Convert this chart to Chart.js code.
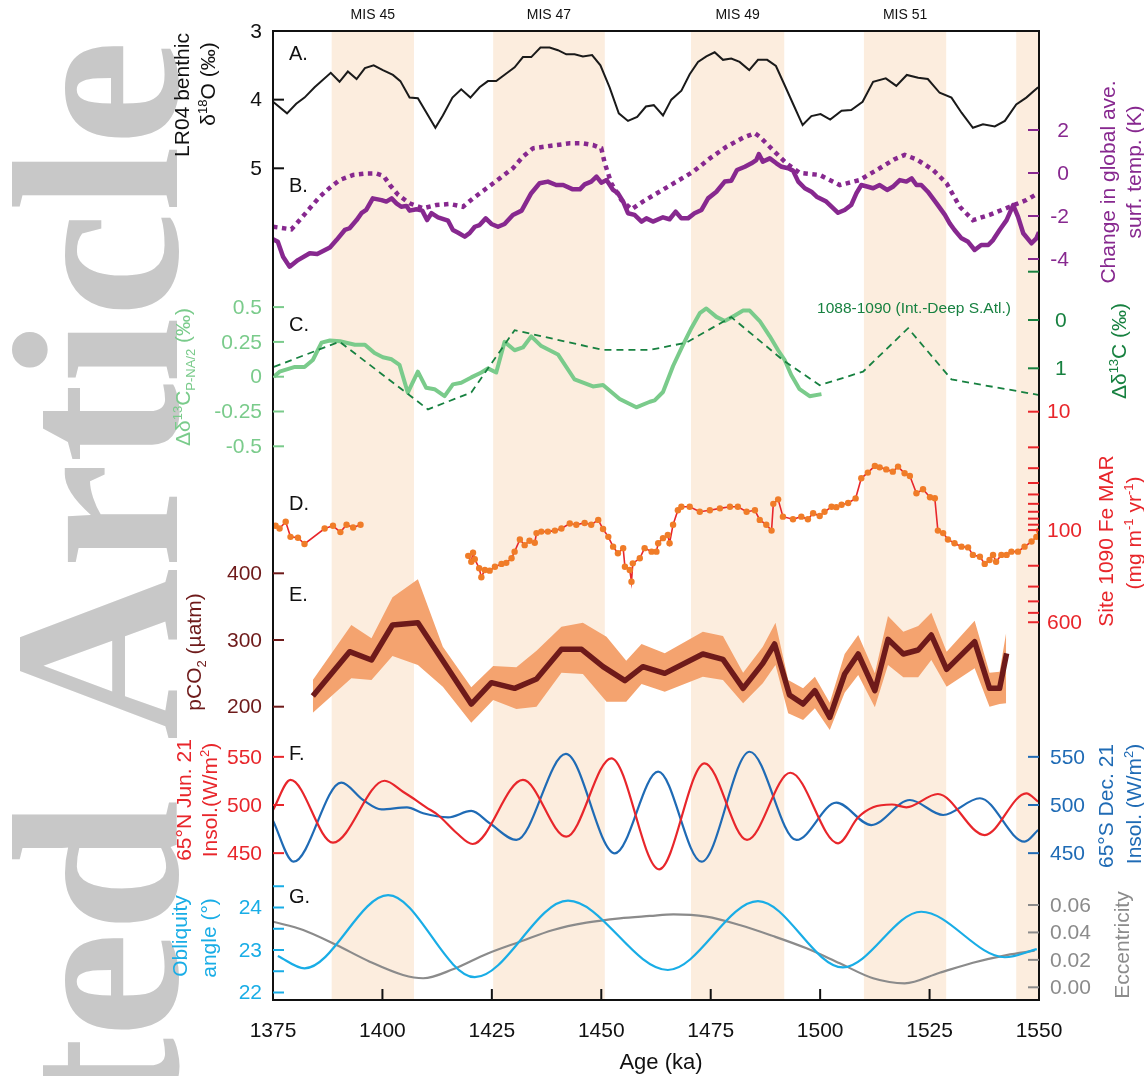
<!DOCTYPE html>
<html>
<head>
<meta charset="utf-8">
<title>Paleo records MIS 45-51</title>
<script src="https://cdn.jsdelivr.net/npm/chart.js@4.4.1/dist/chart.umd.min.js"></script>
<style>
  html, body { margin: 0; padding: 0; background: #fff; }
  canvas { display: block; }
</style>
</head>
<body>
<canvas id="chart" width="1144" height="1076"></canvas>
<script>
// ---- values (age in ka) ----
const ageTicks = [1375, 1400, 1425, 1450, 1475, 1500, 1525, 1550];
const misBands = [[1388.4, 1407.2], [1425.3, 1450.8], [1470.5, 1491.8], [1510.0, 1528.8], [1544.8, 1550]];
const misNames = ['MIS 45', 'MIS 47', 'MIS 49', 'MIS 51'];

// A. LR04 benthic d18O (permil)
const lr04 = [[1375.0,4.03],[1378.2,4.20],[1380.3,4.06],[1382.2,3.97],[1384.5,3.82],[1388.2,3.61],[1390.2,3.74],[1392.1,3.59],[1394.1,3.70],[1396.0,3.54],[1398.0,3.50],[1400.1,3.57],[1402.4,3.64],[1404.1,3.73],[1406.2,3.97],[1408.1,3.98],[1412.1,4.41],[1413.8,4.23],[1416.0,3.97],[1418.0,3.85],[1420.1,3.97],[1422.2,3.82],[1424.1,3.73],[1426.0,3.73],[1428.3,3.62],[1430.2,3.53],[1432.1,3.38],[1434.0,3.38],[1436.1,3.24],[1438.2,3.24],[1440.1,3.28],[1442.0,3.34],[1443.9,3.34],[1445.8,3.37],[1447.9,3.35],[1449.8,3.50],[1451.9,3.82],[1454.0,4.20],[1456.1,4.31],[1458.2,4.25],[1460.2,4.10],[1462.0,4.08],[1464.1,4.23],[1466.0,4.00],[1468.3,3.87],[1470.2,3.63],[1472.1,3.45],[1474.0,3.37],[1475.9,3.31],[1477.8,3.42],[1479.7,3.40],[1481.6,3.45],[1483.8,3.57],[1485.8,3.42],[1487.9,3.42],[1489.9,3.51],[1491.9,3.79],[1493.8,4.06],[1496.0,4.37],[1498.0,4.24],[1500.1,4.21],[1502.3,4.29],[1504.9,4.16],[1507.1,4.15],[1509.7,4.03],[1512.1,3.74],[1515.0,3.69],[1517.4,3.80],[1519.8,3.64],[1522.4,3.68],[1524.6,3.70],[1527.3,3.90],[1530.0,3.97],[1532.3,4.19],[1534.9,4.41],[1537.2,4.36],[1539.9,4.39],[1542.2,4.31],[1544.8,4.07],[1547.1,3.97],[1549.8,3.82]];

// B. change in global average surface temperature (K)
const tempSolid = [[1375.0,-3.08],[1376.1,-3.2],[1377.3,-3.9],[1378.8,-4.36],[1380.7,-4.05],[1383.4,-3.73],[1385.1,-3.77],[1388.0,-3.46],[1389.5,-3.12],[1391.4,-2.65],[1392.5,-2.57],[1394.1,-2.19],[1395.2,-1.87],[1396.3,-1.72],[1397.8,-1.18],[1399.8,-1.26],[1400.9,-1.33],[1402.1,-1.18],[1403.2,-1.41],[1404.3,-1.57],[1405.5,-1.53],[1406.2,-1.75],[1407.8,-1.69],[1409.1,-1.75],[1410.2,-2.19],[1411.2,-1.87],[1412.7,-2.06],[1415.0,-2.22],[1416.1,-2.65],[1417.3,-2.78],[1418.8,-2.96],[1419.9,-2.8],[1421.1,-2.5],[1422.2,-2.42],[1423.6,-2.11],[1424.9,-2.37],[1426.4,-2.5],[1427.9,-2.37],[1429.8,-1.95],[1431.8,-1.75],[1434.0,-0.94],[1435.9,-0.48],[1437.8,-0.40],[1439.7,-0.56],[1441.3,-0.56],[1443.5,-0.76],[1445.1,-0.76],[1446.2,-0.53],[1447.7,-0.40],[1448.9,-0.17],[1450.0,-0.45],[1451.2,-0.33],[1452.7,-0.79],[1453.8,-0.94],[1455.0,-1.33],[1456.1,-1.87],[1457.6,-1.95],[1459.2,-2.26],[1460.3,-2.11],[1461.8,-2.26],[1464.1,-2.06],[1465.6,-2.15],[1467.0,-1.8],[1468.3,-2.11],[1469.8,-2.11],[1471.3,-1.87],[1472.9,-1.72],[1474.4,-1.18],[1476.3,-0.87],[1478.2,-0.4],[1479.7,-0.36],[1481.0,0.14],[1482.8,0.29],[1484.3,0.45],[1485.4,0.6],[1486.0,0.88],[1486.9,0.53],[1488.5,0.68],[1490.0,0.45],[1491.2,0.29],[1492.7,0.22],[1493.8,0.11],[1495.0,-0.40],[1496.5,-0.71],[1498.0,-0.87],[1499.2,-1.1],[1501.4,-1.33],[1504.1,-1.85],[1505.6,-1.72],[1507.1,-1.49],[1508.3,-0.94],[1509.4,-0.56],[1510.9,-0.64],[1512.1,-0.71],[1513.6,-0.56],[1515.3,-0.79],[1516.6,-0.64],[1518.2,-0.33],[1519.7,-0.4],[1520.9,-0.25],[1522.0,-0.56],[1523.1,-0.56],[1524.6,-0.87],[1526.6,-1.41],[1528.5,-1.95],[1529.6,-2.34],[1530.7,-2.65],[1532.3,-3.04],[1533.8,-3.2],[1535.3,-3.58],[1536.8,-3.35],[1538.4,-3.35],[1539.5,-3.12],[1541.0,-2.65],[1542.6,-2.19],[1544.1,-1.49],[1545.2,-2.03],[1546.4,-2.8],[1548.3,-3.27],[1549.4,-3.04],[1550.0,-2.75]];
const tempDotted = [[1375.0,-2.5],[1379.2,-2.62],[1381.1,-2.19],[1383.4,-1.64],[1385.7,-1.1],[1388.0,-0.68],[1390.2,-0.33],[1393.3,-0.09],[1396.3,-0.02],[1398.6,-0.02],[1400.3,-0.14],[1401.7,-0.56],[1403.6,-1.02],[1406.2,-1.41],[1409.3,-1.64],[1412.3,-1.49],[1415.4,-1.44],[1418.4,-1.57],[1420.7,-1.18],[1423.8,-0.71],[1426.8,-0.25],[1429.8,0.22],[1432.1,0.76],[1434.4,1.15],[1438.2,1.26],[1442.8,1.38],[1445.8,1.38],[1448.1,1.30],[1450.0,1.15],[1450.8,0.45],[1452.3,-0.48],[1454.6,-1.26],[1456.9,-1.69],[1459.5,-1.33],[1463.3,-0.87],[1467.2,-0.4],[1471.0,0.06],[1474.8,0.68],[1478.6,1.22],[1482.4,1.64],[1485.1,1.85],[1486.2,1.69],[1489.2,1.07],[1492.3,0.45],[1495.3,0.01],[1499.9,-0.09],[1504.5,-0.56],[1509.0,-0.33],[1513.6,0.22],[1517.0,0.64],[1519.3,0.84],[1522.0,0.64],[1525.8,0.14],[1528.9,-0.48],[1531.9,-1.57],[1534.9,-2.19],[1538.7,-1.95],[1543.3,-1.57],[1547.1,-1.26],[1549.8,-0.94]];

// C. d13C gradients (permil)
const d13cPNA = [[1375.2,0.0],[1376.5,0.036],[1380.0,0.07],[1382.2,0.07],[1384.1,0.12],[1386.1,0.245],[1388.0,0.26],[1390.3,0.255],[1393.7,0.23],[1396.0,0.23],[1398.2,0.17],[1400.1,0.14],[1402.1,0.125],[1403.9,0.085],[1405.8,-0.115],[1408.1,0.036],[1410.0,-0.08],[1411.9,-0.09],[1414.2,-0.14],[1416.1,-0.055],[1418.0,-0.043],[1420.3,-0.005],[1422.6,0.03],[1424.1,0.06],[1426.0,0.03],[1427.9,0.25],[1430.2,0.19],[1432.1,0.21],[1434.0,0.29],[1436.3,0.22],[1440.1,0.16],[1443.9,-0.02],[1448.1,-0.07],[1450.4,-0.06],[1454.2,-0.16],[1458.0,-0.22],[1461.1,-0.18],[1462.2,-0.17],[1464.1,-0.11],[1466.4,0.077],[1468.7,0.23],[1470.6,0.35],[1472.5,0.456],[1474.0,0.49],[1476.3,0.43],[1478.2,0.40],[1480.5,0.44],[1482.4,0.475],[1483.9,0.475],[1486.2,0.40],[1488.5,0.29],[1490.4,0.19],[1491.9,0.12],[1493.4,0.012],[1495.3,-0.09],[1497.6,-0.14],[1500.3,-0.125]];
const d13c1090 = [[1375.2,0.97],[1390.2,0.45],[1410.4,1.85],[1420.3,1.5],[1430.2,0.21],[1450.4,0.62],[1461.1,0.62],[1469.4,0.47],[1479.7,-0.06],[1491.5,0.83],[1499.9,1.35],[1509.8,1.07],[1520.1,0.17],[1530.0,1.23],[1549.8,1.55]];

// D. Site 1090 Fe MAR (mg m-1 yr-1), two segments
const feMarEarly = [[1375.6,92],[1376.5,97],[1377.9,85],[1379.0,114],[1380.7,116],[1382.2,131],[1386.8,97],[1388.7,92],[1390.4,104],[1391.8,90],[1393.3,95],[1395.0,90]];
const feMarLate = [[1419.6,165],[1420.3,185],[1420.7,155],[1421.1,176],[1422.1,210],[1422.6,250],[1423.4,217],[1424.5,220],[1425.7,204],[1427.2,193],[1428.3,189],[1429.5,173],[1430.2,152],[1431.4,120],[1432.5,134],[1433.6,123],[1434.8,128],[1435.2,106],[1436.3,103],[1437.8,103],[1439.4,101],[1440.9,97],[1442.8,88],[1444.3,90],[1446.2,87],[1447.7,90],[1449.3,82],[1450.4,98],[1451.6,114],[1452.7,138],[1453.8,157],[1455.0,142],[1455.4,204],[1456.5,217],[1456.9,273],[1457.2,191],[1458.8,173],[1459.9,142],[1461.5,152],[1462.6,152],[1463.0,129],[1464.1,117],[1465.2,110],[1465.6,129],[1466.4,90],[1467.5,68],[1468.3,63.5],[1470.2,63.5],[1472.5,70],[1474.8,68],[1477.1,65.5],[1479.4,63.5],[1481.2,63.5],[1483.2,70],[1485.1,68],[1486.2,82],[1487.7,90],[1488.9,101],[1489.3,60],[1490.4,55],[1491.5,77],[1493.8,81],[1495.7,77],[1497.2,81],[1498.4,72],[1499.9,76],[1501.0,70],[1502.6,63.5],[1503.7,64],[1504.9,61],[1506.4,59],[1508.1,54],[1509.4,36.5],[1510.9,32.7],[1512.5,28.7],[1513.6,29.5],[1515.1,30.7],[1516.6,32.1],[1517.8,29.1],[1519.3,33.1],[1520.5,34.9],[1522.0,48.9],[1523.5,45.2],[1525.1,52.8],[1526.2,53.9],[1526.9,101],[1528.1,106],[1529.2,120],[1530.7,129],[1532.3,138],[1533.8,140],[1534.9,162],[1536.5,168],[1537.6,193],[1538.7,179],[1539.5,162],[1540.2,185],[1541.4,162],[1542.6,162],[1543.7,152],[1545.2,152],[1546.7,138],[1548.3,125],[1549.4,114],[1550.0,101]];

// E. pCO2 (uatm): central estimate and envelope
const co2Mid = [[1384.1,216],[1392.5,282.5],[1397.5,270],[1402.3,322.5],[1408.1,326],[1420.3,204],[1424.9,236],[1430.2,227.5],[1435.2,241.5],[1440.9,286],[1445.5,286],[1450.4,260],[1455.4,239],[1459.5,260],[1464.5,250],[1473.2,279],[1477.8,271],[1482.4,227.5],[1486.9,265],[1489.6,294],[1493.0,217.5],[1496.1,204],[1498.8,224],[1502.2,184],[1505.6,249],[1508.7,279],[1512.5,224],[1515.5,301],[1519.0,279],[1522.4,285],[1525.4,307.5],[1528.9,256],[1535.3,297.5],[1538.7,227.5],[1541.0,227.5],[1542.6,280]];
const co2BandAge = [1384.1,1392.9,1397.5,1402.3,1408.1,1413.8,1420.3,1425.3,1430.6,1435.2,1440.9,1445.8,1451.2,1455.7,1459.2,1464.5,1473.2,1477.8,1482.4,1486.9,1489.8,1492.7,1496.1,1498.8,1502.2,1505.6,1508.7,1512.5,1515.5,1519.0,1522.4,1525.4,1528.9,1535.3,1538.7,1541.0,1542.5];
const co2Upper = [240,322.5,302.5,364,391,290,229,261,259,284,320,326,305,269,294,280,312.5,306,251,290,326,240,227.5,245,206,279,307.5,250,336,312.5,321,341,282.5,329,251,252.5,311];
const co2Lower = [191,242.5,240,276,262.5,230,176,210,196.5,200,251,249,207.5,207.5,234,222.5,245,240,205,235,262.5,190,180,197.5,165,221,247.5,199,262.5,244,244,270,230,257.5,200,204,205];

// F. June 21 insolation 65N and Dec 21 insolation 65S (W/m2)
const insol65N = [[1375.0,494.8],[1379.0,526],[1388.7,460.9],[1400.5,525.2],[1404.7,513.8],[1407.0,507],[1410.0,497.6],[1412.7,489.6],[1416.9,471.2],[1420.6,459.5],[1432.1,526],[1442.0,467.1],[1452.3,548.5],[1463.2,433.2],[1473.6,543.3],[1483.3,463.7],[1493.2,533.5],[1504.1,460.2],[1508.7,487.2],[1512.1,497.6],[1516.4,500.5],[1519.7,497.6],[1526.9,511.4],[1537.6,468.8],[1547.1,512.1],[1549.8,503.4]];
const insol65S = [[1375.0,483.7],[1379.7,441.1],[1390.6,523.2],[1395.6,505.2],[1399.8,495.5],[1405.6,497.6],[1409.3,491.4],[1415.0,487.2],[1420.3,493.8],[1424.5,481],[1430.6,463.7],[1441.9,553],[1453.1,449.8],[1463.0,534.6],[1472.9,441.1],[1483.9,555.3],[1494.6,463.7],[1503.7,502.4],[1511.7,479.2],[1520.5,505.2],[1528.1,489.6],[1536.5,507],[1546.7,461.9],[1549.8,474]];

// G. obliquity (deg) and eccentricity
const obliquity = [[1376.1,22.86],[1382.2,22.57],[1401.3,24.29],[1421.1,22.36],[1442.4,24.16],[1465.2,22.53],[1485.8,24.15],[1505.2,22.59],[1523.1,23.90],[1542.2,22.83],[1549.5,23.02]];
const eccentricity = [[1375.0,0.0478],[1381.9,0.0418],[1389.5,0.0308],[1397.1,0.0187],[1404.7,0.0090],[1409.3,0.0066],[1416.1,0.0131],[1423.8,0.0243],[1431.4,0.0332],[1439.0,0.0418],[1446.6,0.0471],[1454.2,0.0503],[1461.1,0.0520],[1466.5,0.0532],[1474.0,0.0515],[1481.6,0.0454],[1489.2,0.0374],[1496.9,0.0284],[1504.5,0.0175],[1512.1,0.0066],[1519.3,0.0029],[1527.3,0.0106],[1534.9,0.0179],[1542.6,0.0235],[1549.0,0.0267]];

// ---- layout ----
const PLOT = { left: 273, right: 1039, top: 31, bottom: 1000 };
const FONT = '"Liberation Sans", Arial, Helvetica, sans-serif';
const C = {
    band: '#fcedde', lr04: '#1a1a1a', purple: '#87288f', lightGreen: '#7acb8b', darkGreen: '#178140',
    red: '#e8262b', orange: '#f07c28', co2: '#6e1a1a', co2Band: '#f4a36f', blue: '#1f6bb5',
    cyan: '#19ade6', gray: '#8b8b8b'
};

// y-range that puts value v at pixel px with pxPerUnit spacing
function span(v, px, ppu, reverse) {
    const up = (px - PLOT.top) / ppu, down = (PLOT.bottom - px) / ppu;
    return reverse ? { min: v - up, max: v + down } : { min: v - down, max: v + up };
}
const pts = arr => arr.map(p => ({ x: p[0], y: p[1] }));

const rA = span(3, 31, 68.65, true);
const rB = span(0, 173, 21.5, false);
const rC1 = span(0, 376.7, 139.2, false);
const rC2 = span(0, 320, 48.3, true);
const rD = span(1, 411.7, 118.4, true); // decades
const rE = span(200, 706.7, 0.667, false);
const rF = span(500, 805, 0.963, false);
const rG1 = span(23, 950, 42.5, false);
const rG2 = span(0, 987.3, 1371.7, false);

function yScale(r, extra) {
    return Object.assign({ type: 'linear', display: false, bounds: 'data', min: r.min, max: r.max }, extra || {});
}

const feData = pts(feMarEarly).concat([{ x: 1407, y: null }], pts(feMarLate));

const datasets = [
    { label: 'LR04', data: pts(lr04), yAxisID: 'yA', borderColor: C.lr04, borderWidth: 2, order: 1 },
    { label: 'Temp (solid)', data: pts(tempSolid), yAxisID: 'yB', borderColor: C.purple, borderWidth: 4.5,
      borderJoinStyle: 'round', order: 1 },
    { label: 'Temp (dotted)', data: pts(tempDotted), yAxisID: 'yB', borderColor: C.purple, borderWidth: 4.5,
      borderDash: [4.5, 4.5], order: 2 },
    { label: 'd13C P-NA/2', data: pts(d13cPNA), yAxisID: 'yC1', borderColor: C.lightGreen, borderWidth: 4,
      borderJoinStyle: 'round', order: 2 },
    { label: '1088-1090', data: pts(d13c1090), yAxisID: 'yC2', borderColor: C.darkGreen, borderWidth: 1.8,
      borderDash: [7, 5], order: 1 },
    { label: 'Fe MAR', data: feData, yAxisID: 'yD', borderColor: C.red, borderWidth: 1.6, spanGaps: false,
      pointRadius: 3.2, pointBackgroundColor: C.orange, pointBorderWidth: 0, order: 1 },
    { label: 'pCO2 upper', data: co2BandAge.map((a, i) => ({ x: a, y: co2Upper[i] })), yAxisID: 'yE',
      borderWidth: 0, backgroundColor: C.co2Band, fill: '+1', order: 5 },
    { label: 'pCO2 lower', data: co2BandAge.map((a, i) => ({ x: a, y: co2Lower[i] })), yAxisID: 'yE',
      borderWidth: 0, fill: false, order: 5 },
    { label: 'pCO2', data: pts(co2Mid), yAxisID: 'yE', borderColor: C.co2, borderWidth: 5.5,
      borderJoinStyle: 'round', order: 1 },
    { label: '65N Jun 21', data: pts(insol65N), yAxisID: 'yF', borderColor: C.red, borderWidth: 2.2,
      cubicInterpolationMode: 'monotone', order: 1 },
    { label: '65S Dec 21', data: pts(insol65S), yAxisID: 'yF', borderColor: C.blue, borderWidth: 2.2,
      cubicInterpolationMode: 'monotone', order: 2 },
    { label: 'Obliquity', data: pts(obliquity), yAxisID: 'yG1', borderColor: C.cyan, borderWidth: 2.2,
      cubicInterpolationMode: 'monotone', order: 1 },
    { label: 'Eccentricity', data: pts(eccentricity), yAxisID: 'yG2', borderColor: C.gray, borderWidth: 2.2,
      cubicInterpolationMode: 'monotone', order: 2 }
];

// ---- drawing helpers ----
function richText(ctx, x, y, parts, size, color, rot, align) {
    ctx.save();
    ctx.translate(x, y);
    ctx.rotate(rot || 0);
    ctx.fillStyle = color;
    ctx.textAlign = 'left';
    ctx.textBaseline = 'alphabetic';
    const segs = parts.map(p => typeof p === 'string' ? { t: p, k: '' } : p);
    let total = 0;
    segs.forEach(s => {
        ctx.font = (s.k ? size * 0.62 : size) + 'px ' + FONT;
        s.w = ctx.measureText(s.t).width;
        total += s.w;
    });
    let cx = align === 'left' ? 0 : align === 'right' ? -total : -total / 2;
    const base = size * 0.36;
    segs.forEach(s => {
        ctx.font = (s.k ? size * 0.62 : size) + 'px ' + FONT;
        const dy = s.k === 'sup' ? -size * 0.38 : s.k === 'sub' ? size * 0.24 : 0;
        ctx.fillText(s.t, cx, base + dy);
        cx += s.w;
    });
    ctx.restore();
}
const V = -Math.PI / 2;

function yTicks(ctx, scale, values, side, color, labels, labelX, align) {
    ctx.save();
    ctx.strokeStyle = color;
    ctx.lineWidth = 2;
    values.forEach(v => {
        const py = scale.getPixelForValue(v);
        ctx.beginPath();
        if (side === 'left') { ctx.moveTo(PLOT.left, py); ctx.lineTo(PLOT.left + 11, py); }
        else { ctx.moveTo(PLOT.right - 11, py); ctx.lineTo(PLOT.right, py); }
        ctx.stroke();
    });
    ctx.fillStyle = color;
    ctx.font = '21px ' + FONT;
    ctx.textAlign = align;
    ctx.textBaseline = 'middle';
    (labels || []).forEach(l => {
        ctx.fillText(l[1], labelX, scale.getPixelForValue(l[0]) + 1);
    });
    ctx.restore();
}

const decor = {
    id: 'decor',
    beforeDraw(chart) {
        const ctx = chart.ctx;
        ctx.save();
        ctx.fillStyle = '#fff';
        ctx.fillRect(0, 0, chart.width, chart.height);
        // watermark of the accepted manuscript
        ctx.font = 'bold 238px "Liberation Serif", "Times New Roman", serif';
        ctx.fillStyle = '#c8c8c8';
        ctx.translate(177, 40);
        ctx.rotate(V);
        ctx.textAlign = 'right';
        ctx.textBaseline = 'alphabetic';
        ctx.fillText('ted Article', 0, 0);
        ctx.restore();
    },
    beforeDatasetsDraw(chart) {
        const ctx = chart.ctx, x = chart.scales.x;
        ctx.save();
        ctx.fillStyle = C.band;
        misBands.forEach(b => {
            const x0 = x.getPixelForValue(b[0]), x1 = x.getPixelForValue(b[1]);
            ctx.fillRect(x0, PLOT.top, x1 - x0, PLOT.bottom - PLOT.top);
        });
        ctx.restore();
    },
    afterDatasetsDraw(chart) {
        const ctx = chart.ctx, s = chart.scales;
        ctx.save();
        // frame
        ctx.strokeStyle = '#111';
        ctx.lineWidth = 2;
        ctx.strokeRect(PLOT.left, PLOT.top, PLOT.right - PLOT.left, PLOT.bottom - PLOT.top);

        // MIS labels
        ctx.fillStyle = '#111';
        ctx.font = '14px ' + FONT;
        ctx.textAlign = 'center';
        ctx.textBaseline = 'middle';
        misNames.forEach((n, i) => {
            ctx.fillText(n, s.x.getPixelForValue((misBands[i][0] + misBands[i][1]) / 2), 15);
        });

        // x axis
        ctx.strokeStyle = '#111';
        ctx.lineWidth = 2;
        ctx.font = '21px ' + FONT;
        ageTicks.forEach(a => {
            const px = s.x.getPixelForValue(a);
            ctx.beginPath(); ctx.moveTo(px, PLOT.bottom - 11); ctx.lineTo(px, PLOT.bottom); ctx.stroke();
            ctx.fillText(String(a), px, 1031);
        });
        ctx.font = '22px ' + FONT;
        ctx.fillText('Age (ka)', 661, 1063);

        // panel letters
        ctx.font = '20px ' + FONT;
        ctx.textAlign = 'left';
        [['A.', 54], ['B.', 186], ['C.', 325], ['D.', 504], ['E.', 595], ['F.', 754], ['G.', 897]].forEach(l => {
            ctx.fillText(l[0], 289, l[1]);
        });
        ctx.restore();

        // left axes
        yTicks(ctx, s.yA, [3, 4, 5], 'left', '#111', [[3, '3'], [4, '4'], [5, '5']], 262, 'right');
        yTicks(ctx, s.yC1, [0.5, 0.25, 0, -0.25, -0.5], 'left', C.lightGreen,
            [[0.5, '0.5'], [0.25, '0.25'], [0, '0'], [-0.25, '-0.25'], [-0.5, '-0.5']], 262, 'right');
        yTicks(ctx, s.yE, [400, 300, 200], 'left', C.co2, [[400, '400'], [300, '300'], [200, '200']], 262, 'right');
        yTicks(ctx, s.yF, [550, 500, 450], 'left', C.red, [[550, '550'], [500, '500'], [450, '450']], 262, 'right');
        yTicks(ctx, s.yG1, [24.5, 24, 23.5, 23, 22.5, 22], 'left', C.cyan, [[24, '24'], [23, '23'], [22, '22']], 262, 'right');

        // right axes
        yTicks(ctx, s.yB, [2, 0, -2, -4], 'right', C.purple, [[2, '2'], [0, '0'], [-2, '-2'], [-4, '-4']], 1069, 'right');
        yTicks(ctx, s.yC2, [-1, 0, 1], 'right', C.darkGreen, [[0, '0'], [1, '1']], 1055, 'left');
        yTicks(ctx, s.yD, [10, 20, 30, 40, 50, 60, 70, 80, 90, 100, 200, 300, 400, 500, 600], 'right', C.red,
            [[10, '10'], [100, '100'], [600, '600']], 1047, 'left');
        yTicks(ctx, s.yF, [550, 500, 450], 'right', C.blue, [[550, '550'], [500, '500'], [450, '450']], 1050, 'left');
        yTicks(ctx, s.yG2, [0.06, 0.04, 0.02, 0], 'right', C.gray,
            [[0.06, '0.06'], [0.04, '0.04'], [0.02, '0.02'], [0, '0.00']], 1050, 'left');

        // axis titles
        richText(ctx, 181, 95, ['LR04 benthic'], 21, '#111', V);
        richText(ctx, 207, 84, ['\u03b4', { t: '18', k: 'sup' }, 'O (\u2030)'], 21, '#111', V);
        richText(ctx, 1107, 182, ['Change in global ave.'], 21, C.purple, V);
        richText(ctx, 1133, 172, ['surf. temp. (K)'], 21, C.purple, V);
        richText(ctx, 182, 377, ['\u0394\u03b4', { t: '13', k: 'sup' }, 'C', { t: 'P-NA/2', k: 'sub' }, ' (\u2030)'], 21, C.lightGreen, V);
        richText(ctx, 1118, 351, ['\u0394\u03b4', { t: '13', k: 'sup' }, 'C (\u2030)'], 21, C.darkGreen, V);
        richText(ctx, 1105, 541, ['Site 1090 Fe MAR'], 21, C.red, V);
        richText(ctx, 1133, 533, ['(mg m', { t: '-1', k: 'sup' }, ' yr', { t: '-1', k: 'sup' }, ')'], 21, C.red, V);
        richText(ctx, 193, 652, ['pCO', { t: '2', k: 'sub' }, ' (\u00b5atm)'], 21, C.co2, V);
        richText(ctx, 183, 800, ['65\u00b0N Jun. 21'], 21, C.red, V);
        richText(ctx, 209, 800, ['Insol.(W/m', { t: '2', k: 'sup' }, ')'], 21, C.red, V);
        richText(ctx, 1105, 806, ['65\u00b0S Dec. 21'], 21, C.blue, V);
        richText(ctx, 1133, 804, ['Insol. (W/m', { t: '2', k: 'sup' }, ')'], 21, C.blue, V);
        richText(ctx, 179, 936, ['Obliquity'], 21, C.cyan, V);
        richText(ctx, 208, 938, ['angle (\u00b0)'], 21, C.cyan, V);
        richText(ctx, 1121, 945, ['Eccentricity'], 21, C.gray, V);

        // record annotation
        richText(ctx, 914, 307, ['1088-1090 (Int.-Deep S.Atl.)'], 15.5, C.darkGreen, 0);
    }
};

new Chart(document.getElementById('chart'), {
    type: 'line',
    data: { datasets },
    options: {
        responsive: false,
        animation: false,
        devicePixelRatio: 1,
        layout: { padding: { left: PLOT.left, right: 1144 - PLOT.right, top: PLOT.top, bottom: 1076 - PLOT.bottom } },
        elements: { point: { radius: 0 }, line: { tension: 0, fill: false } },
        plugins: { legend: { display: false }, tooltip: { enabled: false } },
        scales: {
            x: { type: 'linear', display: false, bounds: 'data', min: 1375, max: 1550 },
            yA: yScale(rA, { reverse: true }),
            yB: yScale(rB),
            yC1: yScale(rC1),
            yC2: yScale(rC2, { reverse: true }),
            yD: { type: 'logarithmic', display: false, bounds: 'data', reverse: true,
                  min: Math.pow(10, rD.min), max: Math.pow(10, rD.max) },
            yE: yScale(rE),
            yF: yScale(rF),
            yG1: yScale(rG1),
            yG2: yScale(rG2)
        }
    },
    plugins: [decor]
});
</script>
</body>
</html>
